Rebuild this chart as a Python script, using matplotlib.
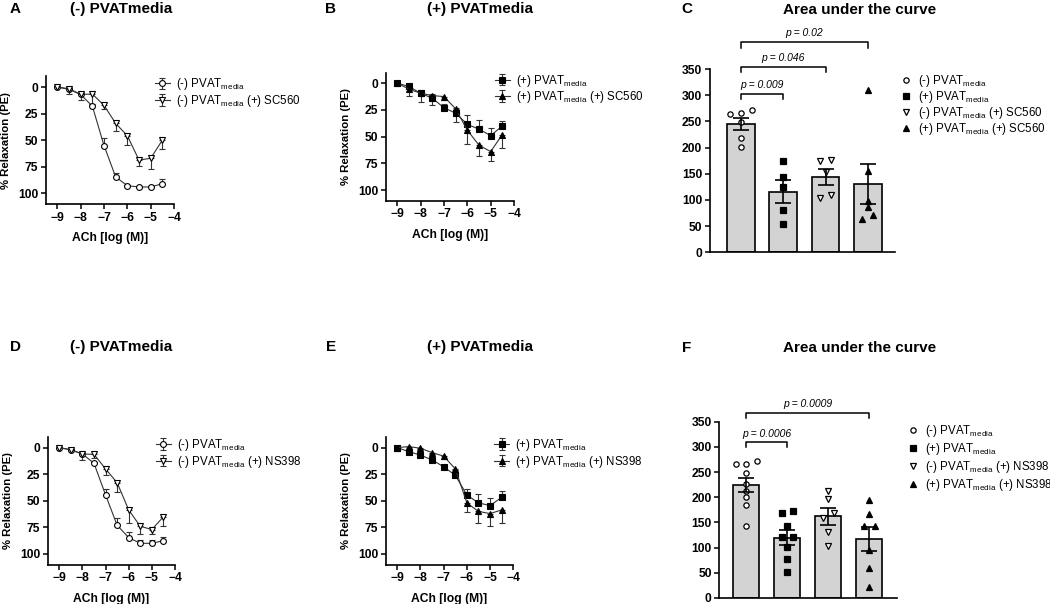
import numpy as np
import matplotlib
matplotlib.use("Agg")
import matplotlib.pyplot as plt

plt.rcParams['font.family'] = ['Liberation Sans', 'DejaVu Sans']
plt.rcParams['mathtext.fontset'] = 'custom'
plt.rcParams['mathtext.rm'] = 'Liberation Sans'
plt.rcParams['mathtext.it'] = 'Liberation Sans:italic'
plt.rcParams['mathtext.bf'] = 'Liberation Sans:bold'

W, H = 1050, 604

# ---- data ----
log_ach = [-9, -8.5, -8, -7.5, -7, -6.5, -6, -5.5, -5, -4.5]

# A: (-) PVATmedia vs (+) SC560
a_ctrl = [0, 1.6, 7, 18, 55, 84.6, 92.8, 94, 94, 90.9]
a_ctrl_err = [0, 0.5, 1, 1, 6.6, 3.7, 1, 1, 1, 4]
a_drug = [0, 2.2, 7, 6.6, 17.2, 34.2, 45.8, 68.7, 67, 50]
a_drug_err = [0, 4.4, 5.5, 9, 3, 7, 8.7, 5.3, 10, 8.5]

# B: (+) PVATmedia vs (+) SC560
b_ctrl = [0, 3, 9.4, 14, 23, 28, 38.5, 43, 49, 40]
b_ctrl_err = [0, 2, 3, 4, 4, 5, 9, 9, 7.5, 5]
b_drug = [0, 5.5, 9.4, 11.5, 12.5, 24, 44, 58, 64, 48]
b_drug_err = [0, 6, 8, 9, 3, 12, 13, 10, 9, 12.5]

# D: (-) PVATmedia vs (+) NS398
d_ctrl = [0, 2, 6, 14.7, 44.5, 73, 84.6, 90, 90, 87.5]
d_ctrl_err = [0, 0.5, 1, 1, 6, 7, 5, 3, 3, 3]
d_drug = [0, 2, 6, 6.3, 20, 33, 58.6, 74, 77, 65]
d_drug_err = [0, 1, 6, 3, 6, 9, 12, 7, 4.5, 9]

# E: (+) PVATmedia vs (+) NS398
e_ctrl = [0, 3.8, 7, 11.6, 18, 26, 44.5, 52, 54.5, 46.7]
e_ctrl_err = [0, 1, 1, 1, 1, 1, 6, 8, 7, 6]
e_drug = [0, -1, 0.6, 4.7, 8, 20, 52, 60, 62, 58.6]
e_drug_err = [0, 1, 1, 1, 3, 1, 9, 11, 12, 12]

# C: AUC SC560
c_neg = [272, 266, 265, 249, 218, 201]
c_pos = [174.6, 144, 125, 80, 53.5]
c_neg_drug = [177, 174.6, 153.5, 109, 104.5]
c_pos_drug = [310, 155, 98, 86, 72, 63]

# F: AUC NS398
f_neg = [271, 266, 266, 249, 227, 213, 201, 184, 142]
f_pos = [172, 168, 142, 121, 121, 101, 77, 52]
f_neg_drug = [213, 197, 168, 158, 132, 103]
f_pos_drug = [195, 166, 143, 143, 95, 59, 21]

c_pvals = [(0, 1, 'p = 0.009'), (0, 2, 'p = 0.046'), (0, 3, 'p = 0.02')]
c_bracket_y = [302, 354, 401]
f_pvals = [(0, 1, 'p = 0.0006'), (0, 3, 'p = 0.0009')]
f_bracket_y = [309, 368]

sub = r'$_{\mathregular{media}}$'
lab_neg = '(-) PVAT' + sub
lab_pos = '(+) PVAT' + sub

fig = plt.figure(figsize=(W / 100, H / 100), dpi=100)


def add_ax(l, r, t, b):
    return fig.add_axes([l / W, 1 - b / H, (r - l) / W, (b - t) / H])


def style(ax):
    for s in ['top', 'right']:
        ax.spines[s].set_visible(False)
    for s in ['left', 'bottom']:
        ax.spines[s].set_linewidth(1.2)
    ax.tick_params(width=1.1, length=3.5, labelsize=8.7, pad=2)
    for lbl in ax.get_xticklabels() + ax.get_yticklabels():
        lbl.set_fontweight('bold')


def curve_panel(rect, ctrl, ctrl_err, drug, drug_err, m1, m2, fill, lab1, lab2):
    ax = add_ax(*rect)
    fc = 'k' if fill else 'white'
    z = np.zeros(len(log_ach))
    ax.errorbar(log_ach, ctrl, yerr=[ctrl_err, z], color='#333333', lw=0.8,
                marker=m1, ms=4.2, mfc=fc, mec='k', mew=0.8, capsize=2.5,
                elinewidth=0.8, capthick=0.8, label=lab1)
    ax.errorbar(log_ach, drug, yerr=[z, drug_err], color='#333333', lw=0.8,
                marker=m2, ms=4.2, mfc=fc, mec='k', mew=0.8, capsize=2.5,
                elinewidth=0.8, capthick=0.8, label=lab2)
    ax.set_xlim(-9.5, -4)
    ax.set_ylim(110, -10)
    ax.set_xticks([-9, -8, -7, -6, -5, -4])
    ax.set_yticks([0, 25, 50, 75, 100])
    ax.set_xlabel('ACh [log (M)]', fontsize=8.7, fontweight='bold', labelpad=6)
    ax.set_ylabel('% Relaxation (PE)', fontsize=8.2, fontweight='bold', labelpad=5)
    style(ax)
    h, l = ax.get_legend_handles_labels()
    ax.legend(h, l, loc='upper left', bbox_to_anchor=(0.85, 1.0), frameon=False,
              fontsize=8.3, handlelength=1.3, handletextpad=0.5, labelspacing=0.05,
              borderpad=0, borderaxespad=0)
    return ax


def swarm(vals, dy=11, dx=0.26):
    order = np.argsort(vals)
    v = np.asarray(vals, float)[order]
    groups, cur = [], [0]
    for i in range(1, len(v)):
        if v[i] - v[i - 1] < dy:
            cur.append(i)
        else:
            groups.append(cur)
            cur = [i]
    groups.append(cur)
    offs = np.zeros(len(v))
    for g in groups:
        n = len(g)
        for k, i in enumerate(g):
            offs[i] = (k - (n - 1) / 2) * dx
    res = np.zeros(len(v))
    res[order] = offs
    return res


def bar_panel(rect, groups, xlim, width, labels, pvals, py):
    ax = add_ax(*rect)
    markers = [('o', 'white'), ('s', 'k'), ('v', 'white'), ('^', 'k')]
    for i, vals in enumerate(groups):
        vals = np.asarray(vals, float)
        mean = vals.mean()
        sem = vals.std(ddof=1) / np.sqrt(len(vals))
        ax.bar(i, mean, width=width, color='#d3d3d3', edgecolor='k', lw=1.2, zorder=1)
        m, fc = markers[i]
        ax.plot(i + swarm(vals), vals, ls='none', marker=m, ms=3.8, mfc=fc,
                mec='k', mew=0.9, zorder=2, label=labels[i])
        ax.errorbar(i, mean, yerr=sem, color='k', lw=1.2, capsize=5.5,
                    capthick=1.2, zorder=3)
    ax.set_xlim(*xlim)
    ax.set_ylim(0, 350)
    ax.set_yticks(range(0, 351, 50))
    ax.set_xticks([])
    style(ax)
    for (x0, x1, txt), y in zip(pvals, py):
        ax.plot([x0, x0, x1, x1], [y - 10, y, y, y - 10], color='k', lw=1.1,
                clip_on=False)
        ax.text((x0 + x1) / 2, y + 17, txt, ha='center', va='center',
                style='italic', fontsize=7.5)
    return ax


A = curve_panel((45.7, 174, 76.4, 204), a_ctrl, a_ctrl_err, a_drug, a_drug_err,
                'o', 'v', False, lab_neg, lab_neg + ' (+) SC560')
B = curve_panel((385.7, 514, 72.6, 200.7), b_ctrl, b_ctrl_err, b_drug, b_drug_err,
                's', '^', True, lab_pos, lab_pos + ' (+) SC560')
D = curve_panel((47.7, 175, 437, 564.6), d_ctrl, d_ctrl_err, d_drug, d_drug_err,
                'o', 'v', False, lab_neg, lab_neg + ' (+) NS398')
E = curve_panel((385.7, 513.3, 437, 564.6), e_ctrl, e_ctrl_err, e_drug, e_drug_err,
                's', '^', True, lab_pos, lab_pos + ' (+) NS398')

C = bar_panel((710, 895, 69, 252.3), [c_neg, c_pos, c_neg_drug, c_pos_drug],
              (-0.73, 3.64), 0.65,
              [lab_neg, lab_pos, lab_neg + ' (+) SC560', lab_pos + ' (+) SC560'],
              c_pvals, c_bracket_y)
F = bar_panel((719.3, 896.7, 421.7, 598), [f_neg, f_pos, f_neg_drug, f_pos_drug],
              (-0.66, 3.67), 0.63,
              [lab_neg, lab_pos, lab_neg + ' (+) NS398', lab_pos + ' (+) NS398'],
              f_pvals, f_bracket_y)
C.legend(loc='upper left', bbox_to_anchor=(1.03, 0.98), frameon=False, fontsize=8.3,
         handlelength=0.9, handletextpad=0.6, labelspacing=0.0, borderpad=0,
         borderaxespad=0)
F.legend(loc='upper left', bbox_to_anchor=(1.06, 0.99), frameon=False, fontsize=8.3,
         handlelength=0.9, handletextpad=0.6, labelspacing=0.15, borderpad=0,
         borderaxespad=0)


def ftext(x, y, s, size):
    fig.text(x / W, 1 - y / H, s, ha='center', va='center', fontsize=size,
             fontweight='bold')


ftext(15.5, 9, 'A', 11)
ftext(121, 9, '(-) PVATmedia', 11)
ftext(331, 9, 'B', 11)
ftext(480, 9, '(+) PVATmedia', 11)
ftext(687, 9, 'C', 11)
ftext(860, 9.5, 'Area under the curve', 11)
ftext(15.5, 347, 'D', 11)
ftext(121, 347, '(-) PVATmedia', 11)
ftext(331, 347, 'E', 11)
ftext(480, 347, '(+) PVATmedia', 11)
ftext(687, 348, 'F', 11)
ftext(860, 348, 'Area under the curve', 11)

fig.savefig('out.png', dpi=100)
